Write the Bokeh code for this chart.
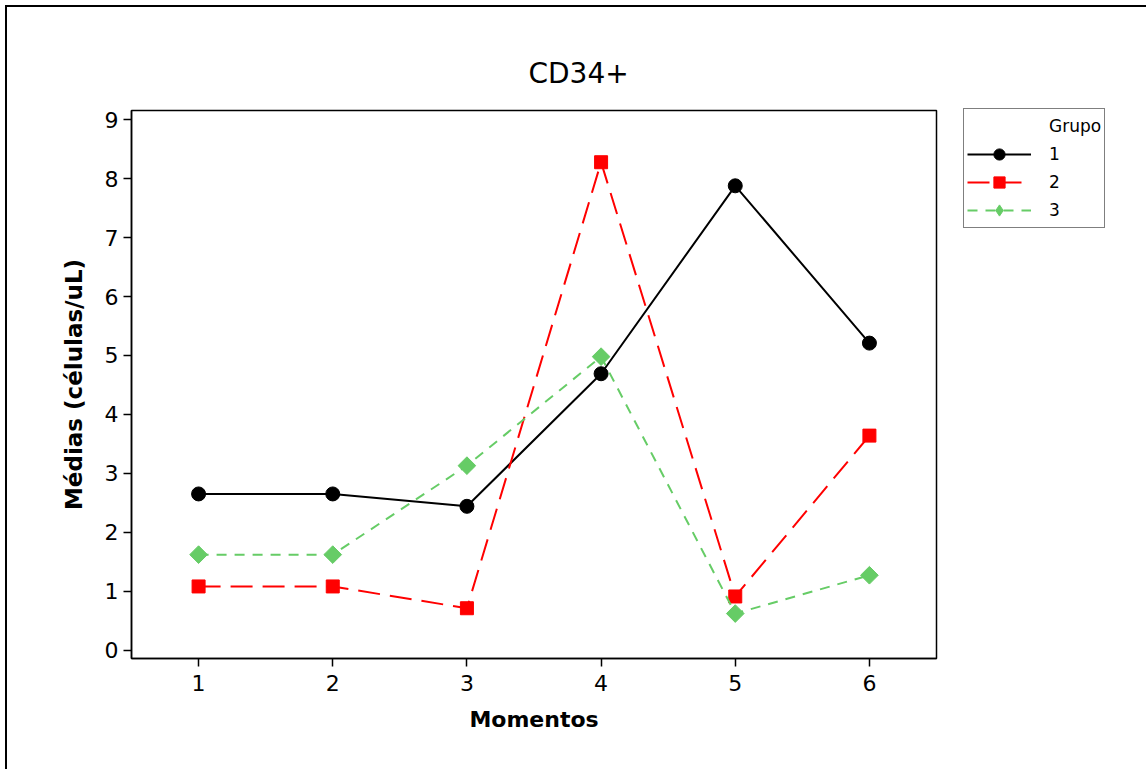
import math
from bokeh.plotting import figure
from bokeh.models import Legend, LegendItem, Range1d
from bokeh.embed import file_html
from bokeh.resources import INLINE

# ---- data ----
momentos = [1, 2, 3, 4, 5, 6]
grupo1 = [2.65, 2.65, 2.44, 4.69, 7.88, 5.21]
grupo2 = [1.08, 1.08, 0.71, 8.28, 0.91, 3.64]
grupo3 = [1.62, 1.62, 3.13, 4.98, 0.62, 1.27]
legend_title = "Grupo"
grupo_labels = ["1", "2", "3"]
y_ticks = [0, 1, 2, 3, 4, 5, 6, 7, 8, 9]

FONT = "DejaVu Sans"

p = figure(frame_width=805, frame_height=548, output_backend="svg", toolbar_location=None,
           x_range=Range1d(0.5, 6.5), y_range=Range1d(-0.143, 9.158),
           min_border_left=124, min_border_top=103,
           min_border_right=210, min_border_bottom=111)
p.styles = {"border-top": "2px solid black", "border-left": "2px solid black",
            "margin-left": "5px", "margin-top": "5px"}

p.title.text = "CD34+"
p.title.text_font = FONT
p.title.text_font_size = "28px"
p.title.text_font_style = "normal"
p.title.text_color = "black"
p.title.align = "left"
p.title.offset = 397
p.title.standoff = 42

p.xgrid.visible = False
p.ygrid.visible = False
p.outline_line_color = "black"
p.outline_line_width = 1.5
p.outline_line_alpha = 1.0

for ax in (p.xaxis[0], p.yaxis[0]):
    ax.axis_line_color = "black"
    ax.axis_line_width = 1.5
    ax.major_tick_line_color = "black"
    ax.major_tick_line_width = 1.5
    ax.major_tick_in = 0
    ax.major_tick_out = 8
    ax.minor_tick_line_color = None
    ax.major_label_text_color = "black"
    ax.major_label_text_font = FONT
    ax.major_label_text_font_size = "22px"
    ax.axis_label_text_color = "black"
    ax.axis_label_text_font = FONT
    ax.axis_label_text_font_style = "bold"

p.xaxis.ticker = momentos
p.yaxis.ticker = y_ticks
p.xaxis.axis_label = "Momentos"
p.yaxis.axis_label = "Médias (células/uL)"
p.xaxis.axis_label_text_font_size = "22px"
p.yaxis.axis_label_text_font_size = "23px"
p.xaxis.major_label_standoff = 8
p.yaxis.major_label_standoff = 5
p.xaxis.axis_label_standoff = 13
p.yaxis.axis_label_standoff = 15

l1 = p.line(momentos, grupo1, line_color="black", line_width=2)
s1 = p.scatter(momentos, grupo1, marker="circle", size=14, fill_color="black", line_color="black")
l2 = p.line(momentos, grupo2, line_color="#FF0000", line_width=2, line_dash="22 10")
s2 = p.scatter(momentos, grupo2, marker="square", size=13, fill_color="#FF0000", line_color="#FF0000")
l3 = p.line(momentos, grupo3, line_color="#66CC66", line_width=2, line_dash="10 8")
s3 = p.scatter(momentos, grupo3, marker="square", size=12.5, angle=math.pi / 4,
               fill_color="#66CC66", line_color="#66CC66")
# legend-only helpers (nothing drawn in the plot): header row without a sample,
# and a diamond sample for group 3 (y is NaN so the point is not shown)
hdr = p.line(x=[], y=[], line_alpha=0)
d3 = p.scatter(x=momentos[:1], y=[float("nan")], marker="diamond", size=16,
               fill_color="#66CC66", line_color="#66CC66")

items = [LegendItem(label=legend_title, renderers=[hdr]),
         LegendItem(label=grupo_labels[0], renderers=[l1, s1]),
         LegendItem(label=grupo_labels[1], renderers=[l2, s2]),
         LegendItem(label=grupo_labels[2], renderers=[l3, d3])]

legend = Legend(items=items, location=(27, 430), orientation="vertical",
                border_line_color="black", border_line_width=1.5,
                background_fill_color="white", background_fill_alpha=1.0,
                glyph_width=64, glyph_height=28, label_height=28,
                label_standoff=18, spacing=0,
                padding=3, margin=0,
                label_text_font=FONT, label_text_font_size="17px",
                label_text_color="black")
p.add_layout(legend, "right")

open("out.html", "w").write(file_html(p, INLINE))
